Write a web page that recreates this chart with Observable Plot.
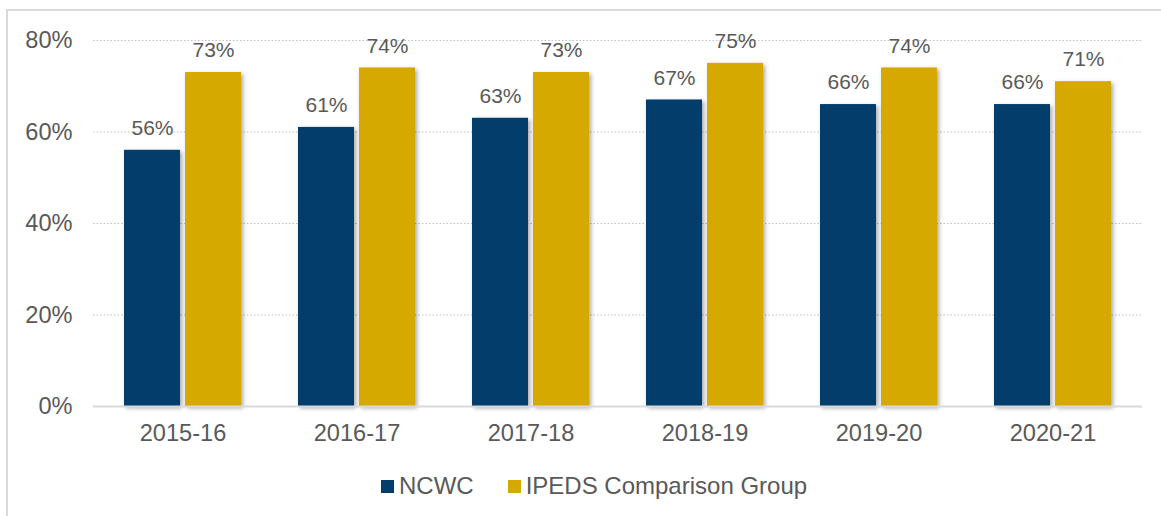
<!DOCTYPE html>
<html>
<head>
<meta charset="utf-8">
<script src="https://cdn.jsdelivr.net/npm/d3@7"></script>
<script src="https://cdn.jsdelivr.net/npm/@observablehq/plot@0.6"></script>
<style>
  html, body { margin: 0; padding: 0; background: #fff; }
  body { width: 1161px; height: 516px; position: relative; overflow: hidden; font-family: "Liberation Sans", Arial, sans-serif; }
  #frame { position: absolute; left: 6px; top: 9px; width: 1200px; height: 600px; border-top: 2px solid #d9d9d9; border-left: 2px solid #d9d9d9; }
  #chart { position: absolute; left: 0; top: 0; }
  #chart svg g[aria-label="bar"] rect { filter: drop-shadow(2px 2px 2px rgba(0,0,0,0.35)); }
  #legend { position: absolute; left: 381px; top: 472px; display: flex; align-items: center; font-size: 24px; color: #595959; white-space: nowrap; }
  #legend .sw { display: inline-block; width: 13px; height: 13px; margin-right: 5px; }
  #legend .item { display: flex; align-items: center; margin-right: 34px; }
</style>
</head>
<body>
<div id="frame"></div>
<div id="chart"></div>
<div id="legend"></div>
<script>
const years = ["2015-16", "2016-17", "2017-18", "2018-19", "2019-20", "2020-21"];
const ncwc = [56, 61, 63, 67, 66, 66];
const ipeds = [73, 74, 73, 75, 74, 71];
const seriesNames = ["NCWC", "IPEDS Comparison Group"];
const seriesColors = ["#023d6b", "#d5a900"];
const gridValues = [20, 40, 60, 80];

const ncwcData = years.map((y, i) => ({year: y, value: ncwc[i]}));
const ipedsData = years.map((y, i) => ({year: y, value: ipeds[i]}));

const textColor = "#595959";
const plot = Plot.plot({
  width: 1161,
  height: 456,
  marginLeft: 93,
  marginRight: 19,
  marginTop: 40,
  marginBottom: 50,
  style: {fontFamily: "Liberation Sans, Arial, sans-serif", fontSize: "23.6px", color: textColor, background: "transparent"},
  x: {domain: years, paddingInner: 0.33, paddingOuter: 0.165, tickSize: 0, tickPadding: 18, label: null},
  y: {domain: [0, 80], ticks: 4, tickFormat: d => d + "%", tickSize: 0, tickPadding: 21, label: null},
  marks: [
    Plot.ruleY(gridValues, {stroke: "#bfbfbf", strokeDasharray: "1.5,2", strokeWidth: 1}),
    Plot.barY(ncwcData, {x: "year", y: "value", fill: seriesColors[0], insetRight: 61, insetLeft: 0}),
    Plot.barY(ipedsData, {x: "year", y: "value", fill: seriesColors[1], insetLeft: 61, insetRight: 0}),
    Plot.ruleY([0], {stroke: "#d9d9d9", strokeWidth: 2}),
    Plot.text(ncwcData, {x: "year", y: "value", text: d => d.value + "%", dx: -30.5, dy: -22, fontSize: 21, fill: textColor}),
    Plot.text(ipedsData, {x: "year", y: "value", text: d => d.value + "%", dx: 30.5, dy: -22, fontSize: 21, fill: textColor})
  ]
});
document.getElementById("chart").appendChild(plot);

const legend = document.getElementById("legend");
seriesNames.forEach((name, i) => {
  const item = document.createElement("span");
  item.className = "item";
  const sw = document.createElement("span");
  sw.className = "sw";
  sw.style.background = seriesColors[i];
  item.appendChild(sw);
  item.appendChild(document.createTextNode(name));
  legend.appendChild(item);
});
</script>
</body>
</html>
